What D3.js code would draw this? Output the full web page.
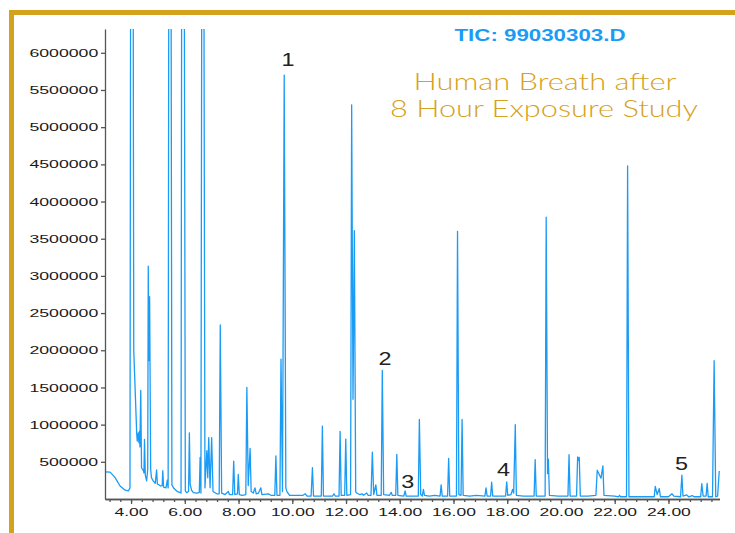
<!DOCTYPE html>
<html>
<head>
<meta charset="utf-8">
<script src="https://cdn.jsdelivr.net/npm/d3@7"></script>
<style>
  body { margin: 0; background: #fff; }
  svg { display: block; }
</style>
</head>
<body>
<div id="vis"></div>
<script>
const FRAME_WIDTH = 735;
const FRAME_HEIGHT = 533;
const MARGINS = {left: 105, right: 15.5, top: 29, bottom: 35};

const VIS_WIDTH = FRAME_WIDTH - MARGINS.left - MARGINS.right;
const VIS_HEIGHT = FRAME_HEIGHT - MARGINS.top - MARGINS.bottom;

// chromatogram trace, [retention time (min), abundance]
// tall solvent peaks run off the top of the plot, so they get 9000000
const traceEarly = [
  [3.03, 365000], [3.22, 362000], [3.40, 290000], [3.59, 175000], [3.78, 118000],
  [3.90, 108000], [3.96, 150000], [3.99, 9000000], [4.07, 9000000], [4.10, 2000000],
  [4.21, 880000], [4.23, 780000], [4.27, 890000], [4.29, 760000], [4.31, 910000],
  [4.33, 700000], [4.36, 1460000], [4.39, 420000], [4.46, 380000], [4.48, 350000],
  [4.50, 800000], [4.53, 320000], [4.58, 245000], [4.62, 400000], [4.64, 3130000],
  [4.665, 1860000], [4.69, 2720000], [4.73, 400000], [4.76, 285000], [4.83, 240000],
  [4.90, 210000], [4.95, 390000], [4.98, 200000]
];

const traceMid = [
  [5.02, 195000], [5.10, 175000], [5.16, 180000], [5.18, 380000], [5.21, 160000],
  [5.30, 150000], [5.35, 255000], [5.38, 150000], [5.41, 9000000], [5.48, 9000000],
  [5.52, 190000], [5.60, 140000], [5.72, 100000], [5.82, 90000], [5.86, 80000],
  [5.89, 9000000], [5.97, 9000000], [6.02, 110000], [6.07, 85000], [6.14, 100000],
  [6.17, 890000], [6.20, 200000], [6.25, 120000], [6.32, 85000], [6.45, 80000],
  [6.54, 90000], [6.57, 560000], [6.60, 80000], [6.64, 9000000], [6.70, 9000000],
  [6.75, 150000], [6.82, 650000], [6.855, 287000], [6.89, 826000], [6.94, 150000],
  [7.00, 826000], [7.05, 100000], [7.19, 70000], [7.28, 70000], [7.32, 2340000],
  [7.37, 80000], [7.50, 60000], [7.62, 100000], [7.66, 60000], [7.78, 60000],
  [7.82, 510000], [7.86, 60000], [7.96, 70000], [7.99, 330000], [8.03, 60000],
  [8.13, 50000], [8.27, 60000], [8.31, 1500000], [8.36, 180000], [8.43, 680000],
  [8.47, 100000], [8.55, 80000], [8.61, 150000], [8.66, 70000], [8.74, 80000],
  [8.83, 150000], [8.87, 60000]
];

const traceLate = [
  [9.11, 70000], [9.20, 50000], [9.35, 50000], [9.39, 580000], [9.43, 50000],
  [9.54, 50000], [9.58, 1880000], [9.635, 100000], [9.70, 5700000], [9.76, 150000],
  [9.80, 100000], [9.90, 50000], [10.40, 50000], [10.48, 70000], [10.55, 40000],
  [10.70, 40000], [10.75, 420000], [10.79, 40000], [11.08, 40000], [11.12, 980000],
  [11.16, 40000], [11.50, 40000], [11.55, 70000], [11.60, 40000], [11.74, 40000],
  [11.78, 910000], [11.82, 50000], [11.95, 50000], [11.99, 805000], [12.03, 50000],
  [12.17, 60000], [12.21, 5300000], [12.26, 1340000], [12.31, 3610000], [12.36, 100000],
  [12.40, 80000], [12.50, 60000], [12.60, 70000], [12.65, 50000], [12.77, 80000],
  [12.82, 50000], [12.93, 50000], [12.98, 630000], [13.03, 60000], [13.11, 190000],
  [13.15, 50000], [13.31, 50000], [13.35, 1730000], [13.40, 60000], [13.62, 50000],
  [13.68, 90000], [13.72, 50000], [13.85, 50000], [13.89, 600000], [13.93, 50000],
  [14.15, 40000], [14.20, 110000], [14.24, 40000], [14.69, 40000], [14.73, 1070000],
  [14.78, 60000], [14.84, 40000], [14.88, 130000], [14.92, 50000], [15.10, 40000],
  [15.30, 50000], [15.50, 40000], [15.54, 190000], [15.58, 40000], [15.78, 40000],
  [15.82, 545000], [15.86, 40000], [16.11, 40000], [16.15, 3600000], [16.20, 60000],
  [16.28, 50000], [16.32, 1070000], [16.36, 50000]
];

const traceEnd = [
  [16.60, 40000], [16.85, 50000], [17.17, 40000], [17.21, 150000], [17.25, 40000],
  [17.38, 40000], [17.42, 225000], [17.46, 40000], [17.70, 40000], [17.94, 40000],
  [17.98, 230000], [18.02, 50000], [18.14, 60000], [18.20, 130000], [18.24, 80000],
  [18.30, 1000000], [18.34, 50000], [18.60, 40000], [19.00, 40000], [19.04, 530000],
  [19.08, 40000], [19.41, 40000], [19.45, 3790000], [19.50, 340000], [19.53, 535000],
  [19.57, 50000], [19.90, 40000], [20.26, 40000], [20.30, 595000], [20.34, 40000],
  [20.58, 40000], [20.62, 566000], [20.65, 520000], [20.68, 560000], [20.72, 40000],
  [21.00, 40000], [21.30, 50000], [21.35, 387000], [21.49, 280000], [21.56, 445000],
  [21.60, 50000], [22.00, 40000], [22.14, 30000], [22.18, 50000], [22.22, 30000],
  [22.44, 30000], [22.48, 4480000], [22.53, 30000], [23.00, 30000], [23.47, 30000],
  [23.51, 170000], [23.58, 60000], [23.66, 140000], [23.70, 30000], [24.00, 30000],
  [24.13, 70000], [24.20, 40000], [24.45, 30000], [24.50, 320000], [24.54, 40000],
  [24.68, 55000], [24.75, 30000], [24.89, 45000], [24.95, 30000], [25.20, 30000],
  [25.24, 206000], [25.29, 40000], [25.40, 40000], [25.44, 211000], [25.48, 30000],
  [25.64, 30000], [25.70, 1860000], [25.76, 30000], [25.83, 40000], [25.89, 377000]
];

// numbered peaks: label, time, abundance where the label sits
const peakNames = ["1", "2", "3", "4", "5"];
const peakTimes = [9.84, 13.45, 14.30, 17.86, 24.49];
const peakHeights = [5820000, 1806000, 152000, 310000, 387000];

const yTicks = [500000, 1000000, 1500000, 2000000, 2500000, 3000000,
                3500000, 4000000, 4500000, 5000000, 5500000, 6000000];
const xTicks = [4, 6, 8, 10, 12, 14, 16, 18, 20, 22, 24];
const xMinorTicks = d3.range(3.2, 25.7, 0.4);

const GOLD = "#d5a21d";
const BLUE = "#1a9bf5";

const FRAME = d3.select("#vis")
  .append("svg")
    .attr("width", FRAME_WIDTH)
    .attr("height", FRAME_HEIGHT);

// gold frame, running off the right and bottom edges
FRAME.append("rect")
  .attr("x", 11.5)
  .attr("y", 12.5)
  .attr("width", 900)
  .attr("height", 700)
  .attr("fill", "none")
  .attr("stroke", GOLD)
  .attr("stroke-width", 5);

const X_SCALE = d3.scaleLinear()
  .domain([3.03, 25.9])
  .range([MARGINS.left, MARGINS.left + VIS_WIDTH]);

const Y_SCALE = d3.scaleLinear()
  .domain([0, 6320000])
  .range([MARGINS.top + VIS_HEIGHT + 1, MARGINS.top]);

FRAME.append("clipPath")
  .attr("id", "plot-clip")
  .append("rect")
    .attr("x", MARGINS.left)
    .attr("y", MARGINS.top)
    .attr("width", VIS_WIDTH + 2)
    .attr("height", VIS_HEIGHT + 1);

const trace = traceEarly.concat(traceMid, traceLate, traceEnd);

const line = d3.line()
  .x(d => X_SCALE(d[0]))
  .y(d => Y_SCALE(d[1]));

FRAME.append("path")
  .datum(trace)
  .attr("clip-path", "url(#plot-clip)")
  .attr("d", line)
  .attr("fill", "none")
  .attr("stroke", BLUE)
  .attr("stroke-width", 1.3)
  .attr("stroke-linejoin", "round");

// axes
const yAxis = FRAME.append("g")
  .attr("transform", "translate(" + MARGINS.left + ",0)")
  .call(d3.axisLeft(Y_SCALE)
    .tickValues(yTicks)
    .tickFormat(d3.format("d"))
    .tickSize(4)
    .tickSizeOuter(0));

yAxis.selectAll("text")
  .attr("x", -4.3)
  .attr("transform", "scale(1.58,1)")
  .attr("fill", "#1a1a1a")
  .style("font-family", "'Liberation Sans', Arial, sans-serif")
  .style("font-size", "11.2px");

const xAxisY = Y_SCALE(0);

FRAME.append("g")
  .attr("transform", "translate(0," + xAxisY + ")")
  .call(d3.axisBottom(X_SCALE)
    .tickValues(xMinorTicks)
    .tickFormat("")
    .tickSize(3)
    .tickSizeOuter(0));

const xAxis = FRAME.append("g")
  .attr("transform", "translate(0," + xAxisY + ")")
  .call(d3.axisBottom(X_SCALE)
    .tickValues(xTicks)
    .tickFormat(d3.format(".2f"))
    .tickSize(5)
    .tickPadding(4.5)
    .tickSizeOuter(0));

xAxis.selectAll("text")
  .attr("transform", "scale(1.75,1)")
  .attr("fill", "#1a1a1a")
  .style("font-family", "'Liberation Sans', Arial, sans-serif")
  .style("font-size", "10px");

FRAME.selectAll(".domain, .tick line")
  .attr("stroke", "#555")
  .attr("stroke-width", 1.3);

// peak numbers
FRAME.selectAll(".peak-label")
  .data(peakNames)
  .enter()
  .append("text")
    .attr("class", "peak-label")
    .attr("transform", (d, i) => "translate(" + X_SCALE(peakTimes[i]) + "," + Y_SCALE(peakHeights[i]) + ") scale(1.3,1)")
    .attr("text-anchor", "middle")
    .attr("fill", "#222")
    .style("font-family", "'Liberation Sans', Arial, sans-serif")
    .style("font-size", "18px")
    .text(d => d);

// titles
FRAME.append("text")
  .attr("x", 540)
  .attr("y", 40.7)
  .attr("text-anchor", "middle")
  .attr("textLength", 171)
  .attr("lengthAdjust", "spacingAndGlyphs")
  .attr("fill", BLUE)
  .style("font-family", "'Liberation Sans', Arial, sans-serif")
  .style("font-weight", "bold")
  .style("font-size", "16px")
  .text("TIC: 99030303.D");

FRAME.append("text")
  .attr("x", 545)
  .attr("y", 90)
  .attr("text-anchor", "middle")
  .attr("textLength", 263)
  .attr("lengthAdjust", "spacingAndGlyphs")
  .attr("fill", GOLD)
  .style("font-family", "Lato, 'Liberation Sans', sans-serif")
  .style("font-weight", 300)
  .style("font-size", "23px")
  .text("Human Breath after");

FRAME.append("text")
  .attr("x", 544)
  .attr("y", 116.7)
  .attr("text-anchor", "middle")
  .attr("textLength", 308)
  .attr("lengthAdjust", "spacingAndGlyphs")
  .attr("fill", GOLD)
  .style("font-family", "Lato, 'Liberation Sans', sans-serif")
  .style("font-weight", 300)
  .style("font-size", "23px")
  .text("8 Hour Exposure Study");
</script>
</body>
</html>
